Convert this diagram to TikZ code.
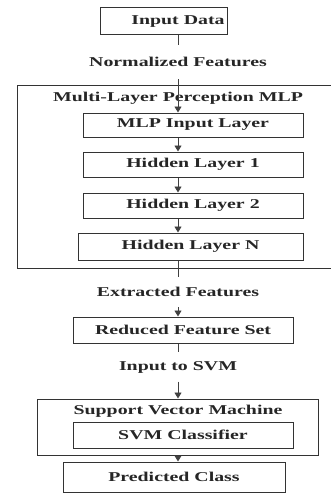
\documentclass[tikz,border=0pt]{standalone}
\usepackage{fontspec}
\setmainfont{Liberation Serif}[FakeStretch=1.47]
\usetikzlibrary{arrows.meta}
\begin{document}
\begin{tikzpicture}[x=1pt,y=-1pt,
  box/.style={draw=black!80, line width=1pt, inner sep=0pt, font=\fontsize{13.5}{15}\selectfont\bfseries, text=black!85},
  lbl/.style={inner sep=0pt, font=\fontsize{13.5}{15}\selectfont\bfseries, text=black!85},
  link/.style={draw=black!75, line width=0.9pt},
  arr/.style={link, -{Triangle[length=6pt,width=7pt]}}]
\useasboundingbox (0,0) rectangle (331,495);

% main flow axis
\coordinate (ax) at (178,0);

% input block
\node[box, minimum width=127pt, minimum height=27pt] (input) at (163.5,21.5) {};
\node[lbl] (inputtxt) at (178,22) {Input Data};
\node[lbl, minimum height=34pt] (nf) at (178,62) {Normalized Features};

% MLP container
\node[box, minimum width=328pt, minimum height=183pt] (mlp) at (181,176.5) {};
\node[lbl] (mlptitle) at (178,98) {Multi-Layer Perception MLP};
\node[box, minimum width=220pt, minimum height=24pt] (mlpin) at (193,125) {MLP Input Layer};
\node[box, minimum width=220pt, minimum height=25pt] (h1) at (193,164.5) {Hidden Layer 1};
\node[box, minimum width=220pt, minimum height=25pt] (h2) at (193,205.5) {Hidden Layer 2};
\node[box, minimum width=225pt, minimum height=27pt] (hn) at (190.5,246.5) {Hidden Layer N};

\node[lbl, minimum height=30pt] (ef) at (178,292) {Extracted Features};
\node[box, minimum width=220pt, minimum height=26pt] (red) at (183,330) {Reduced Feature Set};
\node[lbl, minimum height=29pt] (its) at (178,367) {Input to SVM};

% SVM container
\node[box, minimum width=281pt, minimum height=56pt] (svm) at (177.5,427) {};
\node[lbl] (svmtitle) at (178,411) {Support Vector Machine};
\node[box, minimum width=220pt, minimum height=26pt] (svmc) at (183,435) {SVM Classifier};

\node[box, minimum width=222pt, minimum height=30pt] (pred) at (174,477) {Predicted Class};

% connectors
\draw[link] (input.south -| ax) -- (nf.north -| ax);
\draw[arr] (nf.south -| ax) -- (mlpin.north -| ax);
\draw[arr] (mlpin.south -| ax) -- (h1.north -| ax);
\draw[arr] (h1.south -| ax) -- (h2.north -| ax);
\draw[arr] (h2.south -| ax) -- (hn.north -| ax);
\draw[link] (hn.south -| ax) -- (ef.north -| ax);
\draw[arr] (ef.south -| ax) -- (red.north -| ax);
\draw[link] (red.south -| ax) -- (its.north -| ax);
\draw[arr] (its.south -| ax) -- (svm.north -| ax);
\draw[arr] (svm.south -| ax) -- (pred.north -| ax);
\end{tikzpicture}
\end{document}
